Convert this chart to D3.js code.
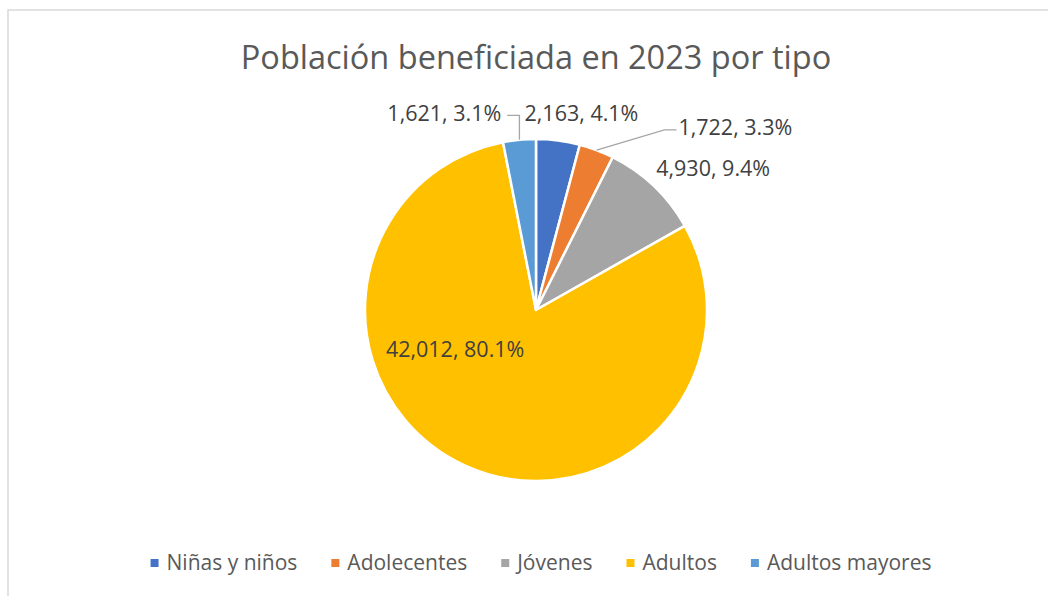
<!DOCTYPE html>
<html>
<head>
<meta charset="utf-8">
<script src="https://cdn.jsdelivr.net/npm/d3@7"></script>
<style>
  body { margin: 0; background: #fff; }
  svg { display: block; }
  text { font-family: "Open Sans", "Noto Sans", sans-serif; }
</style>
</head>
<body>
<div id="chart"></div>
<script>
// Data
const categories = ['Niñas y niños', 'Adolecentes', 'Jóvenes', 'Adultos', 'Adultos mayores'];
const values = [2163, 1722, 4930, 42012, 1621];
const colors = ['#4472C4', '#ED7D31', '#A5A5A5', '#FFC000', '#5B9BD5'];

// Label placement around the centre: [angle in degrees, distance in px]
const labelPlacement = [[13, 202], [47.6, 270], [51.3, 227], [244, 90], [335, 217]];
// which labels get a leader line
const leaderSlices = [1, 4];

const width = 1048, height = 596;
const cx = 536, cy = 310, radius = 171;

const svg = d3.select("#chart").append("svg")
    .attr("width", width)
    .attr("height", height);

// Chart frame (runs off the right and bottom edge)
svg.append("rect")
    .attr("x", 8).attr("y", 10)
    .attr("width", width + 20).attr("height", height + 20)
    .style("fill", "#fff")
    .style("stroke", "#D9D9D9")
    .style("stroke-width", 1.5);

// Title
svg.append("text")
    .attr("x", cx).attr("y", 69)
    .attr("text-anchor", "middle")
    .style("font-size", "32.5px")
    .style("fill", "#595959")
    .text("Población beneficiada en 2023 por tipo");

const color = d3.scaleOrdinal().domain(categories).range(colors);
const total = d3.sum(values);

const pie = d3.pie().sort(null).value(d => d.value);
const arcs = pie(categories.map((c, i) => ({ name: c, value: values[i] })));

const arc = d3.arc().innerRadius(0).outerRadius(radius);

const g = svg.append("g").attr("transform", `translate(${cx},${cy})`);

g.selectAll("path.slice")
    .data(arcs)
    .enter().append("path")
    .attr("class", "slice")
    .attr("d", arc)
    .style("fill", d => color(d.data.name))
    .style("stroke", "#fff")
    .style("stroke-width", 2.5)
    .style("stroke-linejoin", "round");

// polar helper (angle clockwise from 12 o'clock)
function polar(angleDeg, r) {
    const a = angleDeg * Math.PI / 180;
    return [r * Math.sin(a), -r * Math.cos(a)];
}

const fmt = d3.format(",");
const pct = d3.format(".1%");

const labels = g.selectAll("text.lbl")
    .data(arcs)
    .enter().append("text")
    .attr("class", "lbl")
    .attr("x", (d, i) => polar(labelPlacement[i][0], labelPlacement[i][1])[0])
    .attr("y", (d, i) => polar(labelPlacement[i][0], labelPlacement[i][1])[1])
    .attr("dy", "0.35em")
    .attr("text-anchor", "middle")
    .style("font-size", "21.5px")
    .style("fill", "#404040")
    .text(d => `${fmt(d.data.value)}, ${pct(d.data.value / total)}`);

// Leader lines
leaderSlices.forEach(i => {
    const d = arcs[i];
    const mid = (d.startAngle + d.endAngle) / 2 * 180 / Math.PI;
    const start = polar(mid, radius);
    const node = labels.nodes()[i];
    const bb = node.getBBox();
    const ly = bb.y + bb.height / 2 + 3;
    let pts;
    if (bb.x > start[0]) {
        // label to the right: elbow then horizontal into label's left edge
        pts = [start, [bb.x - 14, ly], [bb.x - 2, ly]];
    } else {
        // label to the left: vertical up then horizontal into label's right edge
        pts = [start, [start[0], ly], [bb.x + bb.width + 6, ly]];
    }
    g.append("path")
        .attr("d", d3.line()(pts))
        .style("fill", "none")
        .style("stroke", "#A6A6A6")
        .style("stroke-width", 1.3);
});

// Legend
const legend = svg.append("g");
const items = legend.selectAll("g.item")
    .data(categories)
    .enter().append("g")
    .attr("class", "item");

items.append("rect")
    .attr("width", 8).attr("height", 8)
    .attr("y", -4)
    .style("fill", d => color(d));

items.append("text")
    .attr("x", 16)
    .attr("dy", "0.35em")
    .style("font-size", "21px")
    .style("fill", "#595959")
    .text(d => d);

let xPos = 0;
const gap = 34;
items.each(function() {
    const w = this.getBBox().width;
    d3.select(this).attr("transform", `translate(${xPos},0)`);
    xPos += w + gap;
});
const legendWidth = xPos - gap;
legend.attr("transform", `translate(${541 - legendWidth / 2},563)`);
</script>
</body>
</html>
